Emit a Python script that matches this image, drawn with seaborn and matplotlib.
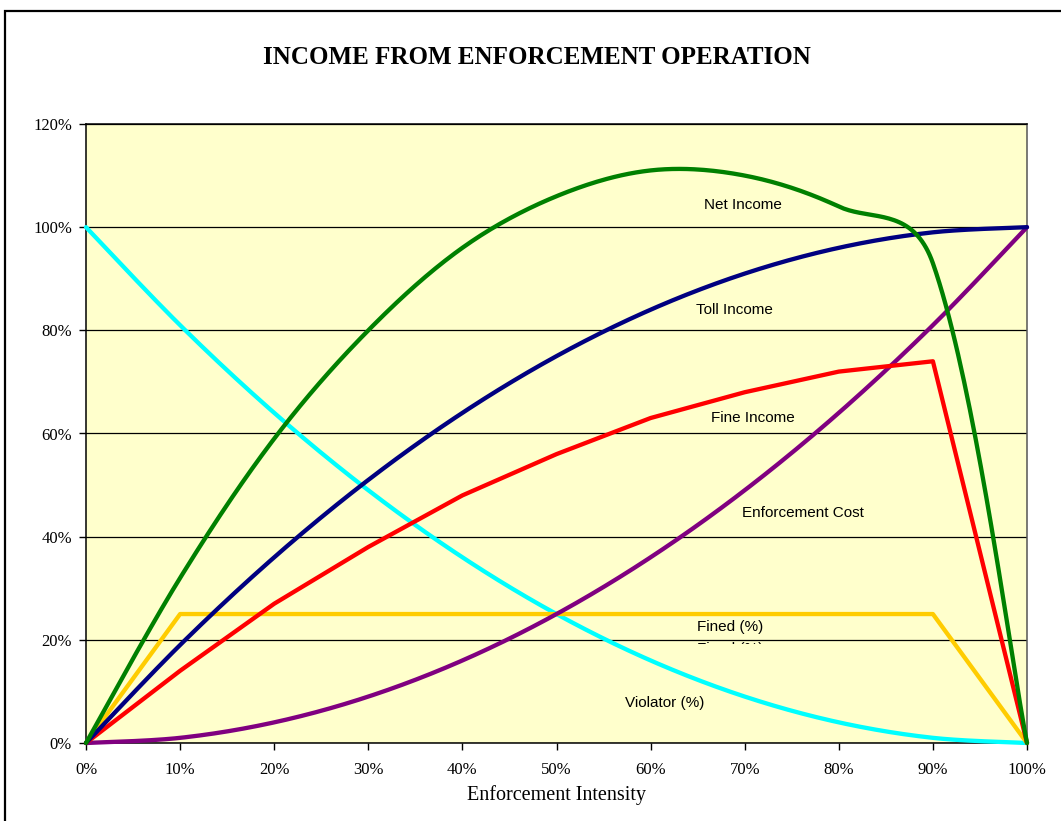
import numpy as np
import pandas as pd
import matplotlib
matplotlib.use("Agg")
import matplotlib.pyplot as plt
from matplotlib.patches import Rectangle
from matplotlib.transforms import Bbox, TransformedBbox
from matplotlib.ticker import PercentFormatter
import seaborn as sns

# Enforcement intensity (%) and series values (%)
intensity = [0, 10, 20, 30, 40, 50, 60, 70, 80, 90, 100]
net_income = [0, 32, 59, 80, 96, 106, 111, 110, 104, 93, 0]
toll_income = [0, 19, 36, 51, 64, 75, 84, 91, 96, 99, 100]
fine_income = [0, 14, 27, 38, 48, 56, 63, 68, 72, 74, 0]
enforcement_cost = [0, 1, 4, 9, 16, 25, 36, 49, 64, 81, 100]
fined_pct = [0, 25, 25, 25, 25, 25, 25, 25, 25, 25, 0]
violator_pct = [100, 81, 64, 49, 36, 25, 16, 9, 4, 1, 0]

x_ticks = [0, 10, 20, 30, 40, 50, 60, 70, 80, 90, 100]
y_ticks = [0, 20, 40, 60, 80, 100, 120]

# pixels per data unit on the plot area (941 px wide / 100, 619 px high / 120)
PX_X = 941 / 100
PX_Y = 619 / 120


def smooth(xs, ys, steps=40):
    # Excel-like smoothed line: cubic Bezier through each point, handle
    # lengths split by the neighbouring segment lengths (in screen space)
    p = np.column_stack([np.array(xs, float) * PX_X, np.array(ys, float) * PX_Y])
    n = len(p)
    h_in = np.zeros_like(p)
    h_out = np.zeros_like(p)
    for i in range(n):
        if i == 0:
            h_out[i] = (p[1] - p[0]) / 6
        elif i == n - 1:
            h_in[i] = (p[-1] - p[-2]) / 6
        else:
            t = p[i + 1] - p[i - 1]
            d0 = np.hypot(*(p[i] - p[i - 1])) ** 0.5
            d1 = np.hypot(*(p[i + 1] - p[i])) ** 0.5
            h_in[i] = t / 3 * d0 / (d0 + d1)
            h_out[i] = t / 3 * d1 / (d0 + d1)
    tt = np.linspace(0, 1, steps)[:, None]
    out = []
    for i in range(n - 1):
        p0, p3 = p[i], p[i + 1]
        c1, c2 = p0 + h_out[i], p3 - h_in[i + 1]
        seg = ((1 - tt) ** 3) * p0 + 3 * ((1 - tt) ** 2) * tt * c1 \
            + 3 * (1 - tt) * tt ** 2 * c2 + tt ** 3 * p3
        out.append(seg if i == 0 else seg[1:])
    seg = np.vstack(out)
    return seg[:, 0] / PX_X, seg[:, 1] / PX_Y


sns.set_theme(style="white")
plt.rcParams['font.family'] = ['Liberation Serif', 'DejaVu Serif']

fig = plt.figure(figsize=(10.61, 8.21), dpi=100)
ax = fig.add_axes([86 / 1061, 78 / 821, 941 / 1061, 619 / 821])
ax.set_facecolor('#FFFFCC')

# outer chart frame (cropped on the right and bottom)
fig.patches.append(Rectangle((5 / 1061, -0.1), 1.2, 1 - 11 / 821 + 0.1,
                             transform=fig.transFigure, fill=False,
                             edgecolor='black', linewidth=1.6))

series = [
    (violator_pct, '#00FFFF', True),
    (fined_pct, '#FFCC00', False),
    (enforcement_cost, '#800080', True),
    (fine_income, '#FF0000', False),
    (toll_income, '#000080', True),
    (net_income, '#008000', True),
]
for ys, color, is_smooth in series:
    if is_smooth:
        sx, sy = smooth(intensity, ys)
    else:
        sx, sy = np.array(intensity, float), np.array(ys, float)
    df = pd.DataFrame({'x': sx, 'y': sy})
    sns.lineplot(data=df, x='x', y='y', ax=ax, color=color, linewidth=3.1,
                 sort=False, estimator=None, clip_on=False, zorder=3)

ax.set_xlim(0, 100)
ax.set_ylim(0, 120)
ax.set_xticks(x_ticks)
ax.set_yticks(y_ticks)
ax.xaxis.set_major_formatter(PercentFormatter(decimals=0))
ax.yaxis.set_major_formatter(PercentFormatter(decimals=0))
ax.tick_params(axis='both', direction='out', length=5, width=1, color='black',
               labelsize=12, labelcolor='black', bottom=True, left=True)
ax.tick_params(axis='x', pad=9)
ax.tick_params(axis='y', pad=5)
ax.grid(axis='y', color='black', linewidth=0.9)
ax.set_axisbelow(True)
for side in ['left', 'right', 'top', 'bottom']:
    ax.spines[side].set_visible(True)
    ax.spines[side].set_color('black')
    ax.spines[side].set_linewidth(1.1)
ax.spines['right'].set_color('#555555')

ax.set_xlabel('Enforcement Intensity', fontsize=14.5, color='black', labelpad=5)
ax.set_ylabel('')
fig.text(537 / 1061, 1 - 58 / 821, 'INCOME FROM ENFORCEMENT OPERATION',
         ha='center', va='center', fontsize=18, fontweight='bold', color='black')

label_font = ['Liberation Sans', 'DejaVu Sans']
labels = [
    ('Net Income', 69.8, 104.3),
    ('Toll Income', 68.9, 84.0),
    ('Fine Income', 70.9, 63.1),
    ('Enforcement Cost', 76.2, 44.5),
    ('Fined (%)', 68.5, 22.5),
    ('Violator (%)', 61.5, 7.8),
]
for text, lx, ly in labels:
    ax.text(lx, ly, text, ha='center', va='center', fontsize=11,
            family=label_font, color='black', zorder=4)

# second "Fined" label, mostly hidden just below the 20% gridline
hidden = ax.text(68.5, 18.3, 'Fined (%)', ha='center', va='center', fontsize=11,
                 family=label_font, color='black', zorder=2)
hidden.set_clip_on(True)
hidden.set_clip_box(TransformedBbox(Bbox([[60, 19.1], [80, 19.85]]), ax.transData))

fig.savefig('out.png', dpi=100)
